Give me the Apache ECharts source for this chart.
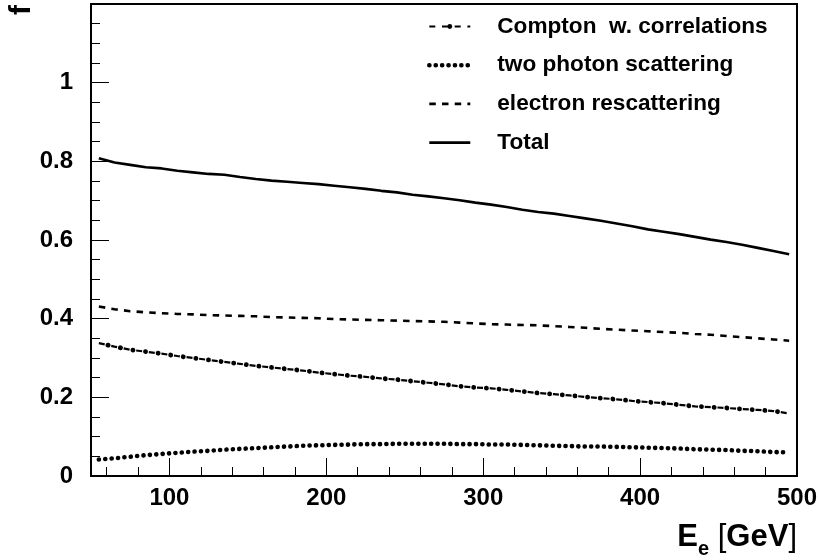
<!DOCTYPE html>
<html><head><meta charset="utf-8">
<script src="https://cdn.jsdelivr.net/npm/echarts@6/dist/echarts.min.js"></script>
<style>html,body{margin:0;padding:0;background:#fff}#c{width:820px;height:560px}</style>
</head><body><div id="c"></div>
<script>
const energies = [55,65,75,85,95,105,115,125,135,145,155,165,175,185,195,205,215,225,235,245,255,265,275,285,295,305,315,325,335,345,355,365,375,385,395,405,415,425,435,445,455,465,475,485,495];
const compton = [0.338,0.329,0.321,0.316,0.311,0.305,0.300,0.295,0.290,0.285,0.280,0.276,0.272,0.268,0.263,0.259,0.255,0.252,0.248,0.245,0.241,0.237,0.233,0.228,0.225,0.223,0.219,0.215,0.211,0.208,0.205,0.201,0.198,0.195,0.191,0.188,0.185,0.181,0.177,0.175,0.173,0.170,0.168,0.165,0.159];
const twoPhoton = [0.042,0.045,0.049,0.053,0.056,0.059,0.062,0.064,0.067,0.069,0.071,0.073,0.075,0.077,0.078,0.079,0.080,0.081,0.081,0.082,0.082,0.082,0.082,0.081,0.081,0.080,0.080,0.079,0.078,0.077,0.076,0.075,0.075,0.074,0.073,0.072,0.071,0.070,0.068,0.067,0.066,0.064,0.063,0.061,0.060];
const electron = [0.431,0.424,0.419,0.416,0.414,0.412,0.411,0.409,0.408,0.407,0.406,0.404,0.403,0.402,0.401,0.399,0.398,0.397,0.396,0.395,0.394,0.393,0.392,0.390,0.388,0.386,0.385,0.384,0.383,0.381,0.379,0.377,0.374,0.372,0.370,0.368,0.366,0.364,0.361,0.359,0.356,0.353,0.350,0.347,0.344];
const total = [0.808,0.797,0.791,0.785,0.782,0.776,0.772,0.768,0.766,0.760,0.755,0.751,0.748,0.745,0.742,0.738,0.734,0.730,0.725,0.721,0.715,0.711,0.706,0.701,0.695,0.690,0.684,0.677,0.671,0.667,0.661,0.655,0.649,0.642,0.635,0.627,0.621,0.615,0.608,0.601,0.595,0.588,0.580,0.572,0.564];
const xMajorTicks = [100,200,300,400,500];
const xMinorTicks = [60,80,120,140,160,180,220,240,260,280,320,340,360,380,420,440,460,480];
const seriesNames = ['Compton  w. correlations','two photon scattering','electron rescattering','Total'];

const FONT = "'Liberation Sans', Arial, Helvetica, sans-serif";
const pairs = arr => energies.map((e, i) => [e, arr[i]]);
const chart = echarts.init(document.getElementById('c'), null, {renderer: 'canvas'});
const hidden = {color: 'rgba(0,0,0,0)', opacity: 0, borderWidth: 0};

const styleTotal = {color: '#000', width: 2.6};
const styleElectron = {color: '#000', width: 2.6, type: [6.5, 6.2]};
const styleCompton = {color: '#000', width: 2.2, type: [6, 6.7]};
const stylePhoton = {color: '#000', width: 4.6, type: [0.1, 6.3], cap: 'round'};

chart.setOption({
  animation: false,
  backgroundColor: '#fff',
  grid: {left: 91, right: 23, top: 4, bottom: 84, containLabel: false, outerBoundsMode: 'none',
         show: true, borderColor: '#000', borderWidth: 2, backgroundColor: 'transparent'},
  legend: {
    orient: 'vertical', left: 427, top: 15, padding: 0,
    itemWidth: 41, itemHeight: 6, itemGap: 15.7, selectedMode: false,
    data: [
      {name: seriesNames[0], lineStyle: styleCompton},
      {name: seriesNames[1], itemStyle: hidden, lineStyle: stylePhoton},
      {name: seriesNames[2], itemStyle: hidden, lineStyle: styleElectron},
      {name: seriesNames[3], itemStyle: hidden, lineStyle: styleTotal}
    ],
    textStyle: {fontSize: 22.6, fontWeight: 'bold', color: '#000', fontFamily: FONT, lineHeight: 22, padding: [0, 0, 0, 22]}
  },
  xAxis: [
    {type: 'value', min: 50, max: 500, position: 'bottom',
     axisLine: {show: true, onZero: false, lineStyle: {color: '#000', width: 2}},
     axisTick: {show: true, inside: true, length: 18, customValues: xMajorTicks, lineStyle: {color: '#000', width: 1}},
     minorTick: {show: false},
     splitLine: {show: false},
     axisLabel: {show: true, customValues: xMajorTicks, margin: 10, color: '#000', fontSize: 24, fontWeight: 'bold', fontFamily: FONT}
    },
    {type: 'value', min: 50, max: 500, position: 'bottom',
     axisLine: {show: false, onZero: false},
     axisTick: {show: true, inside: true, length: 9, customValues: xMinorTicks, lineStyle: {color: '#000', width: 1}},
     minorTick: {show: false},
     splitLine: {show: false},
     axisLabel: {show: false}
    }
  ],
  yAxis: {type: 'value', min: 0, max: 1.2, interval: 0.2, position: 'left',
    axisLine: {show: true, onZero: false, lineStyle: {color: '#000', width: 2}},
    axisTick: {show: true, inside: true, length: 18, lineStyle: {color: '#000', width: 1}},
    minorTick: {show: true, splitNumber: 4, length: 9, lineStyle: {color: '#000', width: 1}},
    splitLine: {show: false}, minorSplitLine: {show: false},
    axisLabel: {show: true, showMaxLabel: false, margin: 18, color: '#000', fontSize: 24, fontWeight: 'bold', fontFamily: FONT}
  },
  graphic: [
    {type: 'text', x: 22, y: 10, rotation: Math.PI / 2, silent: true,
     style: {text: 'f', font: 'bold 30px ' + FONT, fill: '#000', align: 'center', verticalAlign: 'middle', textAlign: 'center', textVerticalAlign: 'middle'}},
    {type: 'text', x: 797, y: 537, silent: true,
     style: {text: '{b|E}{s|e}{n| [}{b|GeV}{n|]}', fill: '#000', align: 'right', verticalAlign: 'middle', textAlign: 'right', textVerticalAlign: 'middle',
       rich: {
         b: {fontSize: 31, fontWeight: 'bold', fontFamily: FONT, lineHeight: 34, fill: '#000'},
         s: {fontSize: 20, fontWeight: 'bold', fontFamily: FONT, lineHeight: 24, padding: [24, 0, 0, 0], fill: '#000'},
         n: {fontSize: 31, fontWeight: 'normal', fontFamily: FONT, lineHeight: 34, fill: '#000'}
       }}}
  ],
  series: [
    {name: seriesNames[3], type: 'line', data: pairs(total), symbol: 'none', silent: true,
     itemStyle: {color: '#000'}, lineStyle: styleTotal},
    {name: seriesNames[2], type: 'line', data: pairs(electron), symbol: 'none', silent: true,
     itemStyle: {color: '#000'}, lineStyle: styleElectron},
    {name: seriesNames[0], type: 'line', data: pairs(compton), symbol: 'circle', symbolSize: 5, showSymbol: false, silent: true,
     itemStyle: {color: '#000'}, lineStyle: styleCompton},
    {name: 'compton-dots', type: 'line', data: pairs(compton), symbol: 'none', silent: true,
     itemStyle: {color: '#000'}, lineStyle: {color: '#000', width: 4.8, type: [0.1, 12.6], cap: 'round', dashOffset: 3.35}},
    {name: seriesNames[1], type: 'line', data: pairs(twoPhoton), symbol: 'none', silent: true,
     itemStyle: {color: '#000'}, lineStyle: stylePhoton}
  ]
});
</script></body></html>
